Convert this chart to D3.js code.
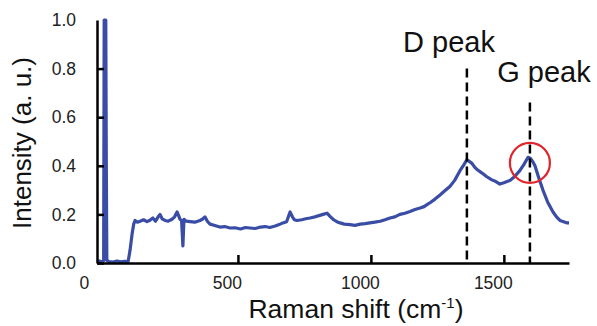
<!DOCTYPE html>
<html><head><meta charset="utf-8">
<script src="https://cdn.jsdelivr.net/npm/d3@7"></script>
<style>body{margin:0;background:#fff;} svg{display:block;font-family:"Liberation Sans",Arial,sans-serif;}</style>
</head><body>
<svg id="c" width="597" height="326"></svg>
<script>
// Raman shift (cm^-1)
const shift = [-30,-20,-10,-5,-3,3,5,7,15,30,45,60,75,87,94,102,108,113,122,132,145,158,169,180,190,200,207,215,226,238,252,262,271,277,282,288,293,297,305,320,338,357,366,376,385,395,410,432,450,470,489,510,528,545,565,585,602,620,640,655,669,683,696,705,712,722,740,755,771,790,805,820,835,848,860,872,884,900,921,940,960,978,996,1015,1035,1053,1072,1090,1109,1128,1147,1166,1185,1200,1211,1225,1240,1260,1278,1297,1315,1335,1350,1361,1370,1380,1390,1399,1418,1436,1455,1470,1485,1500,1512,1523,1540,1560,1575,1591,1600,1610,1617,1630,1647,1665,1685,1698,1711,1725,1738,1745];
const intensity = [0.005,0.008,0.004,0.01,1.0,1.0,0.4,0.01,0.006,0.004,0.008,0.005,0.007,0.006,0.05,0.12,0.16,0.175,0.168,0.172,0.178,0.17,0.176,0.185,0.172,0.19,0.2,0.182,0.175,0.172,0.18,0.19,0.21,0.195,0.18,0.175,0.07,0.18,0.172,0.17,0.168,0.175,0.18,0.19,0.172,0.16,0.155,0.148,0.15,0.144,0.145,0.14,0.146,0.144,0.142,0.148,0.15,0.146,0.152,0.158,0.165,0.17,0.21,0.19,0.178,0.175,0.178,0.182,0.185,0.19,0.195,0.2,0.205,0.19,0.178,0.17,0.165,0.16,0.158,0.155,0.16,0.162,0.165,0.168,0.172,0.178,0.185,0.19,0.2,0.205,0.212,0.22,0.226,0.232,0.24,0.25,0.262,0.28,0.297,0.315,0.34,0.38,0.405,0.425,0.418,0.41,0.395,0.385,0.37,0.355,0.342,0.335,0.325,0.33,0.335,0.34,0.355,0.38,0.405,0.435,0.43,0.415,0.4,0.355,0.3,0.25,0.21,0.19,0.175,0.17,0.165,0.165];
const xTicks = [0,500,1000,1500];
const yTicks = [0,0.2,0.4,0.6,0.8,1.0];
const peakNames = ["D peak","G peak"];
const peakPos = [1361,1598];
const peakTop = [0.80,0.66];

const svg = d3.select("#c");
const x = d3.scaleLinear().domain([-30,1745]).range([97,569]);
const y = d3.scaleLinear().domain([0,1]).range([263,20]);
const blue = "#3a4da6";

// line
svg.append("path")
  .datum(shift.map((s,i)=>[s,intensity[i]]))
  .attr("fill","none").attr("stroke",blue).attr("stroke-width",3.2)
  .attr("stroke-linejoin","round")
  .attr("d", d3.line().x(d=>x(d[0])).y(d=>y(d[1])));

// dashed peak lines
peakPos.forEach((p,i)=>{
  svg.append("line").attr("x1",x(p)).attr("x2",x(p))
    .attr("y1",y(peakTop[i])).attr("y2",y(0))
    .attr("stroke","#000").attr("stroke-width",2.5).attr("stroke-dasharray","9,5");
});
// circle on G peak
svg.append("circle").attr("cx",x(peakPos[1])).attr("cy",y(0.412)).attr("r",20)
  .attr("fill","none").attr("stroke","#e0242a").attr("stroke-width",2.2);

// axes
const xAxis = svg.append("g").attr("transform","translate(0,263)")
  .call(d3.axisBottom(x).tickValues(xTicks).tickFormat(d3.format("d")).tickSizeInner(-8).tickSizeOuter(0).tickPadding(14));
const yAxis = svg.append("g").attr("transform","translate(97,0)")
  .call(d3.axisLeft(y).tickValues(yTicks).tickFormat(d3.format(".1f")).tickSizeInner(-7).tickSizeOuter(0).tickPadding(21));
[xAxis,yAxis].forEach(g=>{
  g.select(".domain").attr("stroke","#000").attr("stroke-width",2.5);
  g.selectAll(".tick line").attr("stroke","#000").attr("stroke-width",2.5);
  g.selectAll(".tick text").attr("font-size",17.5).attr("fill","#222").attr("font-family","Liberation Sans, Arial, sans-serif");
});
xAxis.selectAll(".tick text").attr("dx", d => d===0 ? -21 : -11);
xAxis.selectAll(".tick").filter(d=>d===0).select("line").remove();
yAxis.selectAll(".tick").filter(d=>d===1).select("line").remove();

// axis titles
svg.append("text").attr("x",356).attr("y",318).attr("text-anchor","middle")
  .attr("font-size",26.5).attr("fill","#111")
  .html('Raman shift (cm<tspan dy="-10" font-size="15">-1</tspan><tspan dy="10">)</tspan>');
svg.append("text").attr("transform","translate(31,143) rotate(-90)").attr("text-anchor","middle")
  .attr("font-size",26).attr("fill","#111").text("Intensity (a. u.)");

// peak labels
svg.append("text").attr("x",449).attr("y",52).attr("text-anchor","middle").attr("font-size",29).attr("fill","#111").text(peakNames[0]);
svg.append("text").attr("x",544).attr("y",82).attr("text-anchor","middle").attr("font-size",29).attr("fill","#111").text(peakNames[1]);
</script>
</body></html>
